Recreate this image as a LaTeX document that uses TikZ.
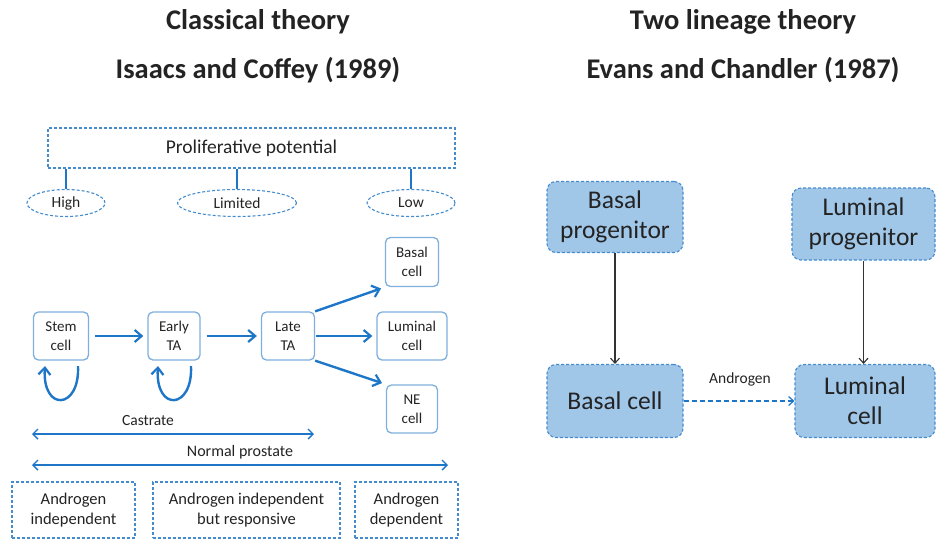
\documentclass[tikz,border=0pt]{standalone}
\usepackage{fontspec}
\setmainfont{Carlito}
\usetikzlibrary{arrows.meta,shapes.geometric}
\definecolor{flow}{RGB}{30,118,200}
\definecolor{edge}{RGB}{70,140,205}
\definecolor{cellfill}{RGB}{160,198,232}
\definecolor{ink}{RGB}{35,35,35}
\begin{document}
\begin{tikzpicture}[x=1pt,y=-1pt,every node/.style={text=ink},
  title/.style={font=\fontsize{28.5}{32}\selectfont\bfseries},
  dbox/.style={draw=edge,line width=1.1pt,dash pattern=on 3pt off 2pt,align=center,inner sep=0pt},
  dell/.style={ellipse,draw=edge,line width=1.1pt,dash pattern=on 3pt off 2pt,inner sep=0pt,font=\fontsize{15.5}{17}\selectfont},
  cellbox/.style={draw=edge!70,line width=1.3pt,rounded corners=5pt,align=center,inner sep=0pt,font=\fontsize{15}{19}\selectfont},
  flowarr/.style={draw=flow,line width=2.4pt,-{Straight Barb[length=7pt,width=12pt,line width=2.2pt]}},
  span/.style={draw=flow,line width=1.4pt,{Straight Barb[length=5pt,width=10pt]}-{Straight Barb[length=5pt,width=10pt]}},
  lineage/.style={draw=edge,fill=cellfill,line width=1.1pt,dash pattern=on 3pt off 2pt,rounded corners=9pt,align=center,inner sep=0pt,font=\fontsize{25.5}{30}\selectfont},
  descent/.style={draw=black!80,line width=1.1pt,-{Straight Barb[length=5pt,width=9pt]}}]
\useasboundingbox (0,0) rectangle (936,539);

% titles
\node[title] (t1) at (258,22) {Classical theory};
\node[title] (t2) at (258,70) {Isaacs and Coffey (1989)};
\node[title] (t3) at (743,22) {Two lineage theory};
\node[title] (t4) at (743,70) {Evans and Chandler (1987)};

% proliferative potential
\node[dbox,minimum width=407pt,minimum height=40pt,font=\fontsize{19.5}{22}\selectfont] (pp) at (251.5,148) {Proliferative potential};
\node[dell,minimum width=78pt,minimum height=27pt] (high) at (66,203) {High};
\node[dell,minimum width=119pt,minimum height=27pt] (lim) at (237,203) {Limited};
\node[dell,minimum width=88pt,minimum height=27pt] (low) at (411,203) {Low};
\draw[draw=flow,line width=1.4pt] (high.north) -- (high.north |- pp.south);
\draw[draw=flow,line width=1.4pt] (lim.north) -- (lim.north |- pp.south);
\draw[draw=flow,line width=1.4pt] (low.north) -- (low.north |- pp.south);

% hierarchy
\node[cellbox,minimum width=55pt,minimum height=48pt] (stem) at (61,336) {Stem\\cell};
\node[cellbox,minimum width=52pt,minimum height=48pt] (early) at (174,336) {Early\\TA};
\node[cellbox,minimum width=53pt,minimum height=48pt] (late) at (288,336) {Late\\TA};
\node[cellbox,minimum width=53pt,minimum height=49pt] (basal) at (412,262) {Basal\\cell};
\node[cellbox,minimum width=70pt,minimum height=48pt] (lum) at (412,336) {Luminal\\cell};
\node[cellbox,minimum width=51pt,minimum height=48pt] (ne) at (412,409) {NE\\cell};

\draw[flowarr,shorten <=6pt,shorten >=4pt] (stem) -- (early);
\draw[flowarr,shorten <=6pt,shorten >=4pt] (early) -- (late);
\draw[flowarr,shorten >=4pt] (late.north east) -- (basal.south west);
\draw[flowarr,shorten <=1pt,shorten >=4pt] (late) -- (lum);
\draw[flowarr,shorten >=4pt] (late.south east) -- (ne.north west);

% self renewal loops
\coordinate (s1) at (78,366);
\coordinate (s2) at (45,366);
\coordinate (e1) at (191,366);
\coordinate (e2) at (158,366);
\draw[flowarr] (s1) .. controls (80,410) and (42,412) .. (s2);
\draw[flowarr] (e1) .. controls (193,410) and (155,412) .. (e2);

% spans
\coordinate (ca) at (32,434);
\coordinate (cb) at (314,434);
\coordinate (na) at (32,465);
\coordinate (nb) at (448,465);
\draw[span] (ca) -- (cb);
\node[font=\fontsize{15.5}{17}\selectfont] (cas) at (148,421) {Castrate};
\draw[span] (na) -- (nb);
\node[font=\fontsize{16}{18}\selectfont] (nor) at (240,452) {Normal prostate};

% androgen dependence
\node[dbox,minimum width=123pt,minimum height=56pt,font=\fontsize{16.5}{20}\selectfont] (ai) at (73.5,510) {Androgen\\independent};
\node[dbox,minimum width=187pt,minimum height=56pt,font=\fontsize{16.5}{20}\selectfont] (air) at (246.5,510) {Androgen independent\\but responsive};
\node[dbox,minimum width=103pt,minimum height=56pt,font=\fontsize{16.5}{20}\selectfont] (ad) at (406.5,510) {Androgen\\dependent};

% two lineage
\node[lineage,minimum width=136pt,minimum height=71pt] (bp) at (615,217) {Basal\\progenitor};
\node[lineage,minimum width=143pt,minimum height=72pt] (lp) at (863.5,224) {Luminal\\progenitor};
\node[lineage,minimum width=136pt,minimum height=73pt] (bc) at (615,401) {Basal cell};
\node[lineage,minimum width=140pt,minimum height=73pt] (lc) at (865,401) {Luminal\\cell};
\draw[descent] (bp) -- (bc);
\draw[descent] (lp.south) -- (lp.south |- lc.north);
\draw[draw=flow,line width=1.2pt,dash pattern=on 5pt off 3pt,-{Straight Barb[length=5pt,width=9pt]}] (bc) -- (lc);
\node[font=\fontsize{15.5}{17}\selectfont] (andr) at (740,379) {Androgen};
\end{tikzpicture}
\end{document}
